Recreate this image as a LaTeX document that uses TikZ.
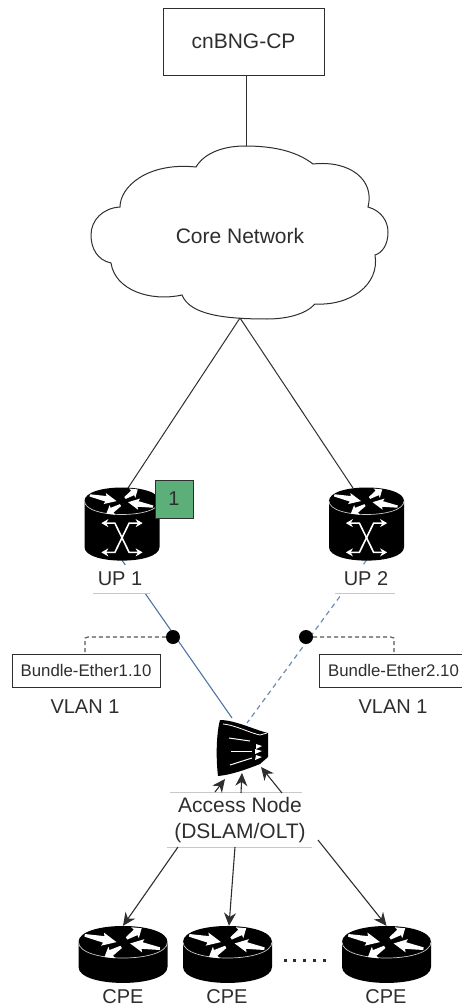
\documentclass[tikz,border=0pt]{standalone}
\usepackage{fontspec}
\setmainfont{Liberation Sans}
\usetikzlibrary{arrows.meta}
\definecolor{ink}{HTML}{2E2E2E}
\definecolor{linkblue}{HTML}{4F74A3}
\definecolor{dashblue}{HTML}{6F8DB0}
\definecolor{badgegreen}{HTML}{5CAF78}
\definecolor{rimgray}{HTML}{C8C8C8}
\definecolor{dashgray}{HTML}{555555}
\newcommand{\whitearrow}[4]{\fill[white,shift={(#1,#2)},rotate=#3]
  (0,-.03) -- (#4*.6,-.075) -- (#4*.56,-.15) -- (#4,0) -- (#4*.56,.15) -- (#4*.6,.075) -- (0,.03) -- cycle;}
\newcommand{\routershape}[1]{%
  \fill[black] (-1,0) .. controls (-1,-.48) and (1,-.48) .. (1,0) -- (1,#1)
     .. controls (1,#1+.48) and (-1,#1+.48) .. (-1,#1) -- cycle;
  \draw[rimgray,line width=.7pt] (-1,0) .. controls (-1,.48) and (1,.48) .. (1,0);
  \whitearrow{-.86}{-.15}{-12}{.73}
  \whitearrow{.08}{-.08}{34}{.41}
  \whitearrow{.83}{.15}{170}{.68}
  \whitearrow{-.04}{.11}{211}{.44}}
\tikzset{
  txt/.style={font=\fontsize{20}{24}\selectfont,text=ink,inner sep=0pt},
  boxlabel/.style={draw=ink,line width=.9pt,fill=white,font=\fontsize{16.8}{20}\selectfont,text=ink,inner sep=0pt},
  conn/.style={draw=ink,line width=1pt},
  feed/.style={draw=ink,line width=1.1pt,-{Stealth[length=13pt,width=12pt]}},
  rule/.style={draw=rimgray,line width=.8pt},
  stub/.style={draw=dashgray,line width=1.1pt,dash pattern=on 4pt off 3pt},
  blob/.style={circle,fill=black,minimum size=14pt,inner sep=0pt},
  anchorbox/.style={inner sep=0pt,rectangle},
  crossarrow/.style={white,line width=1.6pt,{Stealth[length=7pt,width=8pt]}-{Stealth[length=7pt,width=8pt]}},
  cpeicon/.pic={\begin{scope}[x=44.5pt,y=-44.5pt]\routershape{.56}\end{scope}},
  upicon/.pic={\begin{scope}[x=37.5pt,y=-37.5pt]\routershape{1.23}
    \draw[crossarrow] (-.55,.59) -- (-.19,.59) -- (.19,1.37) -- (.55,1.37);
    \draw[crossarrow] (.55,.59) -- (.19,.59) -- (-.19,1.37) -- (-.55,1.37);
    \end{scope}}
}
\begin{document}
\begin{tikzpicture}[x=1pt,y=-1pt]
\useasboundingbox (0,0) rectangle (462,1008);
% top
\node[draw=ink,line width=.9pt,minimum width=161pt,minimum height=67pt,inner sep=0pt,font=\fontsize{21}{25}\selectfont,text=ink] (cp) at (243.5,41.5) {cnBNG-CP};
\coordinate (cloudtop) at (246,146);
\coordinate (cloudtip) at (240,318);
\draw[conn] (cp.south -| cloudtop) -- (cloudtop);
\draw[draw=ink,line width=1pt,fill=white]
 (120,207) .. controls (120,187) and (147,162) .. (196,167)
 .. controls (205,152) and (225,146) .. (245,146)
 .. controls (270,146) and (295,150) .. (313,164)
 .. controls (350,160) and (375,180) .. (368,207)
 .. controls (382,211) and (388,222) .. (388,232)
 .. controls (388,245) and (382,253) .. (375,255)
 .. controls (380,285) and (350,306) .. (315,304)
 .. controls (305,315) and (285,319) .. (267,319)
 .. controls (225,319) and (190,315) .. (182,295)
 .. controls (150,302) and (115,290) .. (111,263)
 .. controls (97,260) and (91,248) .. (91,235)
 .. controls (91,220) and (103,208) .. (120,207) -- cycle;
\node[txt,font=\fontsize{21}{25}\selectfont] (core) at (240,236) {Core Network};
% routers
\node[anchorbox,minimum width=75pt,minimum height=72pt] (up1) at (122,524) {};
\node[anchorbox,minimum width=75pt,minimum height=72pt] (up2) at (366.5,524) {};
\coordinate (up1in) at (128,488);
\coordinate (up2in) at (353,488);
\draw[conn] (cloudtip) -- (up1in);
\draw[conn] (cloudtip) -- (up2in);
% access
\coordinate (anl) at (232,718);
\coordinate (anr) at (247,723);
\draw[linkblue,line width=1.1pt] (up1.south) -- (anl);
\draw[dashblue,line width=1.2pt,dash pattern=on 5pt off 4pt] (up2.south) -- (anr);
\pic at (122,501) {upicon};
\pic at (366.5,501) {upicon};
\node[draw=ink,line width=.6pt,fill=badgegreen,minimum size=38pt,inner sep=0pt,font=\fontsize{20}{24}\selectfont,text=ink] (badge) at (174,499) {1};
\node[txt,fill=white,inner sep=1pt,minimum width=54pt,minimum height=28pt] (lup1) at (120,579) {UP 1};
\node[txt,fill=white,inner sep=1pt,minimum width=54pt,minimum height=28pt] (lup2) at (366,579) {UP 2};
\draw[rule] (93,593) -- (150,593);
\draw[rule] (335,593) -- (395,593);
% tags
\node[boxlabel,minimum width=148pt,minimum height=33pt] (be1) at (86,670.5) {Bundle-Ether1.10};
\node[boxlabel,minimum width=149pt,minimum height=33pt] (be2) at (393.5,670.5) {Bundle-Ether2.10};
\node[blob] (d1) at (173,637) {};
\node[blob] (d2) at (306,637) {};
\draw[stub] (d1.west) -- (88,637) -- (85,638) -- (85,642) -- (be1.north -| 85,0);
\draw[stub] (d2.east) -- (391,637) -- (394,638) -- (394,642) -- (be2.north -| 394,0);
\node[txt] (v1) at (85,707) {VLAN 1};
\node[txt] (v2) at (393,707) {VLAN 1};
% DSLAM
\fill[black] (220,720) .. controls (235,720) and (255,730) .. (268,733) -- (268,757) -- (260,764)
  .. controls (245,770) and (230,775) .. (218,776) .. controls (216,760) and (216,735) .. (220,720) -- cycle;
\draw[white,line width=.8pt] (223,724) .. controls (235,725) and (250,733) .. (260,735) -- (267,733);
\draw[white,line width=1pt] (229,738) -- (250,741);
\draw[white,line width=1pt] (231,751) -- (252,751);
\draw[white,line width=1pt] (230,765) -- (252,758);
\fill[white] (256,744) -- (262,746) -- (256,749) -- cycle;
\fill[white] (255,749) -- (262,751) -- (255,754) -- cycle;
\fill[white] (256,755) -- (262,757) -- (255,760) -- cycle;
\node[txt,font=\fontsize{21}{26}\selectfont,align=center] (access) at (240,820) {Access Node\\(DSLAM/OLT)};
\draw[rule] (170,792) -- (302,792);
\draw[rule] (167,847) -- (312,847);
\coordinate (af1) at (215,792);
\coordinate (af2) at (241,793);
\coordinate (af3) at (282,793);
\coordinate (at1) at (225,779);
\coordinate (at2) at (242,773);
\coordinate (at3) at (261,767);
\draw[feed] (af1) -- (at1);
\draw[feed] (af2) -- (at2);
\draw[feed] (af3) -- (at3);
% CPE
\node[anchorbox,minimum width=89pt,minimum height=57pt] (c1) at (123,954.5) {};
\node[anchorbox,minimum width=89pt,minimum height=57pt] (c2) at (227.5,954.5) {};
\node[anchorbox,minimum width=89pt,minimum height=57pt] (c3) at (386.5,954.5) {};
\pic at (123,942) {cpeicon};
\pic at (227.5,942) {cpeicon};
\pic at (386.5,942) {cpeicon};
\coordinate (o1) at (178,847);
\coordinate (o2) at (235,847);
\coordinate (o3) at (318,840);
\draw[feed] (o1) -- (c1.north);
\draw[feed] (o2) -- ([xshift=1.5pt]c2.north);
\draw[feed] (o3) -- (c3.north);
\node[txt] (n1) at (123,997) {CPE};
\node[txt] (n2) at (227,997) {CPE};
\node[txt] (n3) at (386,997) {CPE};
\foreach \dotx in {285,294,304,314,324}{\fill[ink] (\dotx-1.5,958.5) rectangle (\dotx+1.5,961.5);}
\end{tikzpicture}
\end{document}
